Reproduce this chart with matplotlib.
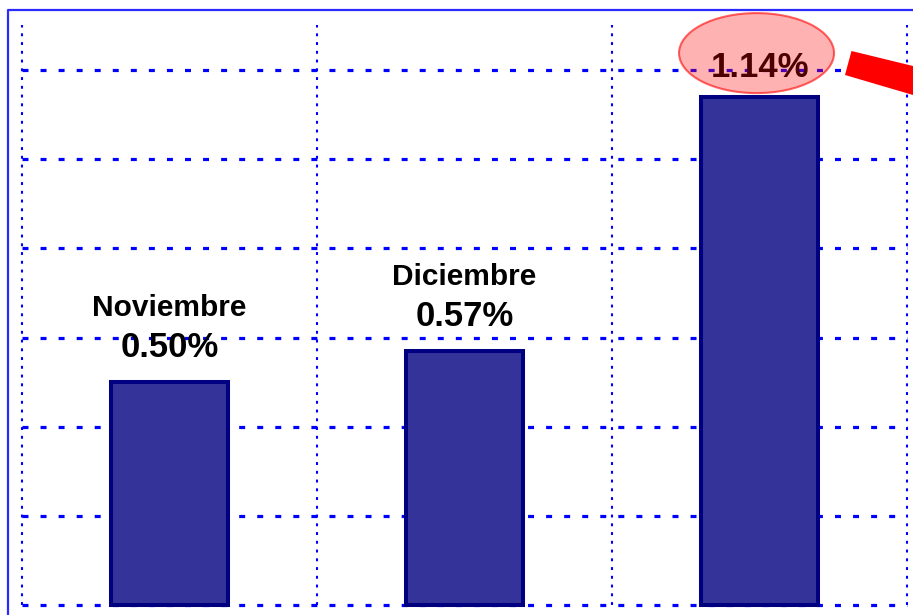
import matplotlib
matplotlib.use("Agg")
import matplotlib.pyplot as plt
from matplotlib.patches import Ellipse, Polygon
from matplotlib.lines import Line2D

plt.rcParams['font.family'] = ['Liberation Sans', 'DejaVu Sans']
plt.rcParams['lines.scale_dashes'] = False

months = ["Noviembre", "Diciembre", ""]
values = [0.50, 0.57, 1.14]
pct_labels = ["0.50%", "0.57%", "1.14%"]
y_grid = [0.0, 0.2, 0.4, 0.6, 0.8, 1.0, 1.2]
y_top = 1.3

W, H = 913, 615
fig = plt.figure(figsize=(W / 100, H / 100), dpi=100)
ax = fig.add_axes([0, 0, 1, 1])
px_x = 295.0
px_y = 445.8
ax.set_xlim(-0.5 - 22 / px_x, -0.5 - 22 / px_x + W / px_x)
ax.set_ylim(-10 / px_y, -10 / px_y + H / px_y)
ax.axis('off')

x = list(range(len(values)))
x_bounds = [i - 0.5 for i in x] + [x[-1] + 0.5]

blue = (0, 0, 1)
hl = ax.hlines(y_grid, x_bounds[0], x_bounds[-1], colors=[blue], linewidth=2.3, zorder=1)
hl.set_linestyle((0, (4.3, 8.7)))
vl = ax.vlines(x_bounds, 0, y_top, colors=[blue], linewidth=1.5, zorder=1)
vl.set_linestyle((0, (2.1, 4.2)))

ax.bar(x, values, width=0.395, color='#333399', edgecolor='#000080',
       linewidth=2.9, zorder=2)

for i, (m, v, p) in enumerate(zip(months, values, pct_labels)):
    if m:
        ax.annotate(m, (i, v), xytext=(0, 47.5), textcoords='offset points',
                    ha='center', va='baseline', fontsize=21.5, fontweight='bold',
                    color='black', zorder=3)
        ax.annotate(p, (i, v), xytext=(0, 18), textcoords='offset points',
                    ha='center', va='baseline', fontsize=25, fontweight='bold',
                    color='black', zorder=3)
    else:
        ax.annotate(p, (i, v), xytext=(0, 14.4), textcoords='offset points',
                    ha='center', va='baseline', fontsize=25, fontweight='bold',
                    color='black', zorder=3)

# highlight ellipse around the last value
last = len(values) - 1
ell = Ellipse((last - 0.01, values[last] + 0.098), width=155 / px_x, height=80 / px_y,
              facecolor=(1, 0, 0, 0.3), edgecolor=(1, 0, 0, 0.6), linewidth=1.5, zorder=4)
ax.add_patch(ell)

# outer frame
fx = 8 / W
fy = 1 - 10 / H
fig.add_artist(Line2D([fx, fx, 1.0], [0.0, fy, fy], transform=fig.transFigure,
                      color='#2a2aff', linewidth=1.6))

# red arrow shaft
pts = [(851.5, 51), (913, 66), (913, 95), (845, 75)]
fig.add_artist(Polygon([(px / W, 1 - py / H) for px, py in pts], closed=True,
                       transform=fig.transFigure, facecolor='#ff0000', edgecolor='none'))

fig.savefig('out.png', dpi=100)
